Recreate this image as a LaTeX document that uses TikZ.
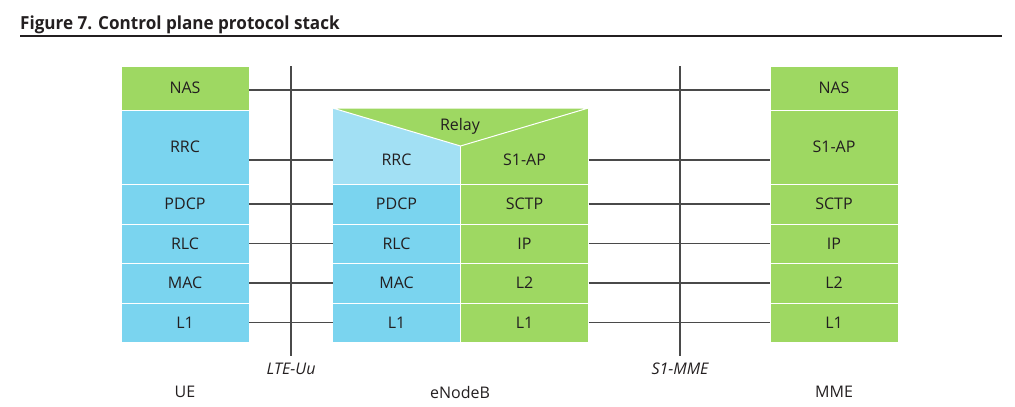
\documentclass[tikz,border=0pt]{standalone}
\usepackage{fontspec}
\setmainfont{Open Sans}
\usetikzlibrary{positioning}
\definecolor{lteblue}{HTML}{7AD4EF}
\definecolor{ltepale}{HTML}{A2E0F4}
\definecolor{ltegreen}{HTML}{9ED862}
\definecolor{wirec}{HTML}{4A4A4A}
\definecolor{ink}{HTML}{231F20}
\tikzset{
  cell/.style={rectangle, draw=white, line width=1pt, inner sep=0pt, outer sep=0pt,
               minimum width=128pt, font=\fontsize{16}{19}\selectfont, text=ink},
  bl/.style={cell, fill=lteblue},
  gr/.style={cell, fill=ltegreen},
  lbl/.style={inner sep=0pt, font=\fontsize{16}{19}\selectfont, text=ink},
  wire/.style={draw=wirec, line width=1.3pt},
}

\begin{document}
\begin{tikzpicture}[x=1pt, y=-1pt, node distance=0pt]
    \useasboundingbox (0,0) rectangle (1015,407);
    % title
    \node[anchor=base west, inner sep=0pt, text=ink,
          font=\fontsize{18}{21}\selectfont\bfseries\addfontfeature{FakeStretch=0.95}]
      (title) at (20,29) {Figure 7. Control plane protocol stack};
    \coordinate (ruleL) at (20,36);
    \coordinate (ruleR) at (1002,36);
    \draw[draw=ink, line width=1.1pt] (ruleL) -- (ruleR);

    % UE
    \node[gr, minimum height=44pt] (ueNAS) at (185,88) {NAS};
    \node[bl, minimum height=74pt, below=of ueNAS] (ueRRC) {RRC};
    \node[bl, minimum height=40pt, below=of ueRRC] (uePDCP) {PDCP};
    \node[bl, minimum height=39pt, below=of uePDCP] (ueRLC) {RLC};
    \node[bl, minimum height=40pt, below=of ueRLC] (ueMAC) {MAC};
    \node[bl, minimum height=39pt, below=of ueMAC] (ueL1) {L1};

    % eNodeB
    \node[cell, fill=ltepale, minimum height=76pt] (enbRRC) at (396.5,146) {};
    \node[gr, minimum height=76pt, right=of enbRRC] (enbS1) {};
    \filldraw[fill=ltegreen, draw=white, line width=1pt]
      (enbRRC.north west) -- (enbS1.north east) -- (enbRRC.east) -- cycle;
    \node[lbl] (relay) at (460,126) {Relay};
    \node[lbl] (enbRRCt) at ([yshift=24pt]enbRRC.south) {RRC};
    \node[lbl] (enbS1t) at ([yshift=24pt]enbS1.south) {S1-AP};
    \node[bl, minimum height=40pt, below=of enbRRC] (enbPDCP) {PDCP};
    \node[bl, minimum height=39pt, below=of enbPDCP] (enbRLC) {RLC};
    \node[bl, minimum height=40pt, below=of enbRLC] (enbMAC) {MAC};
    \node[bl, minimum height=39pt, below=of enbMAC] (enbL1a) {L1};
    \node[gr, minimum height=40pt, below=of enbS1] (enbSCTP) {SCTP};
    \node[gr, minimum height=39pt, below=of enbSCTP] (enbIP) {IP};
    \node[gr, minimum height=40pt, below=of enbIP] (enbL2) {L2};
    \node[gr, minimum height=39pt, below=of enbL2] (enbL1b) {L1};

    % MME
    \node[gr, minimum height=44pt] (mmeNAS) at (834,88) {NAS};
    \node[gr, minimum height=74pt, below=of mmeNAS] (mmeS1) {S1-AP};
    \node[gr, minimum height=40pt, below=of mmeS1] (mmeSCTP) {SCTP};
    \node[gr, minimum height=39pt, below=of mmeSCTP] (mmeIP) {IP};
    \node[gr, minimum height=40pt, below=of mmeIP] (mmeL2) {L2};
    \node[gr, minimum height=39pt, below=of mmeL2] (mmeL1) {L1};

    % interfaces
    \coordinate (uuTop) at (291,66);
    \coordinate (uuBot) at (291,356);
    \coordinate (s1Top) at (680,66);
    \coordinate (s1Bot) at (680,356);
    \draw[wire] (uuTop) -- (uuBot);
    \draw[wire] (s1Top) -- (s1Bot);
    \node[lbl, font=\fontsize{16}{19}\selectfont\itshape] (uuLbl) at (291,369) {LTE-Uu};
    \node[lbl, font=\fontsize{16}{19}\selectfont\itshape] (s1Lbl) at (680,369) {S1-MME};

    % peer links
    \draw[wire] ([yshift=-2pt]ueNAS.east) -- ([yshift=-2pt]mmeNAS.west);
    \draw[wire] (ueRRC.east |- enbRRCt) -- (enbRRC.west |- enbRRCt);
    \draw[wire] (enbS1.east |- enbS1t) -- (mmeS1.west |- enbS1t);
    \draw[wire] (uePDCP) -- (enbPDCP);
    \draw[wire] (ueRLC) -- (enbRLC);
    \draw[wire] (ueMAC) -- (enbMAC);
    \draw[wire] (ueL1) -- (enbL1a);
    \draw[wire] (enbSCTP) -- (mmeSCTP);
    \draw[wire] (enbIP) -- (mmeIP);
    \draw[wire] (enbL2) -- (mmeL2);
    \draw[wire] (enbL1b) -- (mmeL1);

    % node names
    \node[lbl] (ueName) at (185,392) {UE};
    \node[lbl] (enbName) at (460,392) {eNodeB};
    \node[lbl] (mmeName) at (834,392) {MME};
\end{tikzpicture}
\end{document}
